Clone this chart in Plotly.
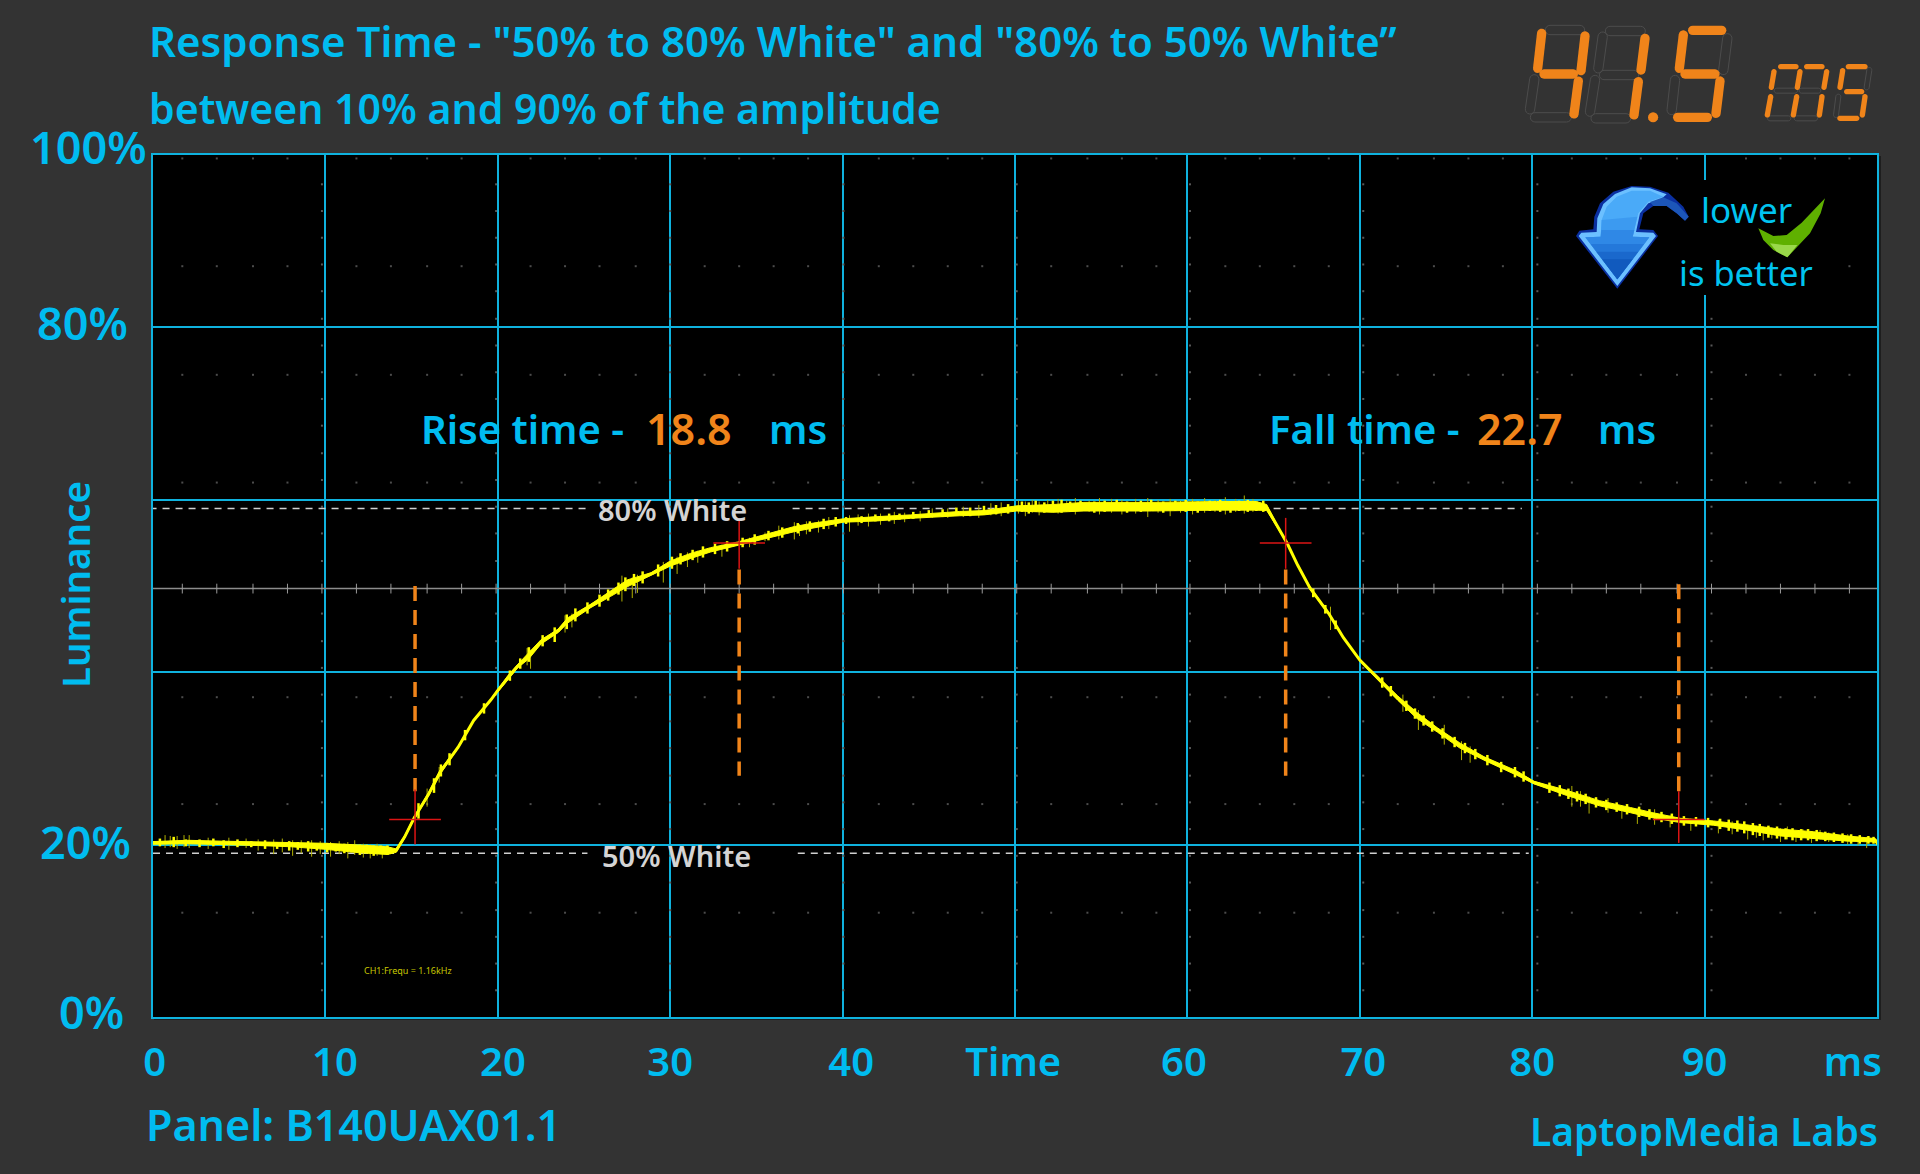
import math
import plotly.graph_objects as go

BLUE = '#00bcf0'
GRID = '#0fb2de'
ORANGE = '#f0841a'
RED = '#dc1414'
BG = '#333333'
FONT = 'Noto Sans'

# trace
time_ms = [0, 2.0, 4.0, 6.0, 8.0, 10.0, 12.0, 13.6, 14.1, 14.6, 15.15, 16.0, 16.65, 17.7, 18.6, 19.6, 20.0,
           20.6, 21.15, 21.8, 22.5, 23.5, 24.05, 25.4, 26.55, 27.5, 28.9, 30.0, 31.2, 32.35, 33.9, 35.65,
           37.2, 38.3, 40.05, 42.0, 43.95, 46.8, 48.2, 50.1, 52.2, 54.0, 57.9, 61.7, 64.0, 64.6, 65.3,
           65.8, 66.4, 67.1, 68.2, 69.05, 70.0, 71.0, 72.2, 73.3, 74.5, 75.8, 77.2, 79.1, 80.1, 82.0,
           83.9, 85.7, 87.0, 88.6, 90.5, 92.4, 94.4, 96.3, 98.3, 99.9, 100.2]
luminance = [20.2, 20.3, 20.2, 20.1, 20.0, 19.8, 19.5, 19.3, 19.3, 20.9, 23.1, 25.9, 28.4, 31.3, 34.4, 36.8, 37.9,
             39.4, 40.7, 41.9, 43.5, 44.8, 46.0, 47.7, 49.1, 50.3, 51.4, 52.6, 53.5, 54.2, 54.9, 55.8,
             56.6, 57.0, 57.6, 57.8, 58.05, 58.4, 58.5, 59.0, 59.0, 59.2, 59.2, 59.3, 59.3, 59.1, 56.6,
             54.9, 52.4, 49.8, 46.8, 44.0, 41.4, 39.4, 37.0, 35.0, 33.3, 31.5, 30.0, 28.3, 27.2, 26.0,
             24.8, 24.0, 23.4, 22.8, 22.5, 22.0, 21.4, 21.1, 20.7, 20.5, 19.6]
band = [0.15, 0.2, 0.2, 0.2, 0.25, 0.35, 0.45, 0.45, 0.2, 0.15, 0.15, 0.2, 0.25, 0.1, 0.1, 0.1, 0.1,
        0.25, 0.2, 0.35, 0.25, 0.2, 0.3, 0.2, 0.3, 0.4, 0.15, 0.3, 0.3, 0.25, 0.2, 0.25,
        0.3, 0.3, 0.2, 0.25, 0.2, 0.25, 0.25, 0.3, 0.45, 0.5, 0.5, 0.5, 0.5, 0.35, 0.1,
        0.1, 0.05, 0.15, 0.1, 0.05, 0.1, 0.2, 0.25, 0.35, 0.25, 0.3, 0.2, 0.25, 0.15, 0.3,
        0.3, 0.3, 0.3, 0.25, 0.25, 0.3, 0.4, 0.4, 0.3, 0.2, 0.15]

# faint noise spikes around the trace
spike_t = [0.7, 1.0, 1.4, 1.8, 2.1, 3.2, 4.4, 5.4, 6.1, 7.0, 7.5, 8.1, 8.6, 9.2, 9.7, 10.3, 10.8, 11.3, 11.7, 12.2,
           12.6, 13.0, 13.3, 15.9, 16.6, 21.7, 21.9, 23.9, 24.3, 27.2, 27.8, 28.1, 29.6, 30.4, 31.0, 31.6, 33.0,
           34.6, 35.5, 36.3, 37.2, 37.5, 37.9, 38.6, 39.2, 40.4, 40.9, 41.5, 42.2, 43.0, 43.6, 44.5, 45.2, 46.1,
           47.0, 47.9, 48.6, 49.2, 50.2, 50.6, 51.0, 51.4, 51.9, 52.5, 53.0, 53.5, 54.3, 54.9, 55.6, 56.2, 57.0,
           57.7, 58.3, 59.0, 59.6, 60.3, 61.0, 61.6, 62.2, 62.8, 63.3, 63.8, 68.3, 72.5, 73.4, 74.9, 75.9, 76.4,
           82.3, 82.8, 83.3, 84.4, 85.2, 86.1, 87.1, 88.0, 89.2, 90.8, 91.6, 92.5, 93.0, 93.4, 93.9, 94.4, 94.8,
           95.3, 95.7, 96.2, 96.7, 97.2, 97.8, 98.3, 98.9, 99.4]
spike_hi = [21.1, 21.0, 21.0, 21.1, 21.1, 20.8, 20.8, 20.7, 20.6, 20.6, 20.7, 20.5, 20.5, 20.5, 20.4, 20.3, 20.4, 20.3, 20.5, 20.1,
            20.0, 20.1, 19.9, 26.5, 29.0, 42.8, 42.6, 46.6, 46.8, 51.2, 51.0, 51.3, 52.8, 53.4, 53.9, 54.1, 54.8,
            55.6, 56.2, 57.0, 57.4, 57.2, 57.5, 57.6, 58.0, 58.2, 58.3, 58.4, 58.4, 58.6, 58.5, 58.7, 59.0, 59.0,
            59.2, 59.4, 59.6, 59.7, 59.9, 59.8, 60.0, 59.8, 60.0, 60.1, 59.9, 60.2, 59.9, 60.2, 60.1, 60.0, 60.1,
            60.2, 60.0, 60.1, 59.9, 60.1, 60.2, 60.0, 60.3, 60.1, 60.5, 60.1, 47.6, 37.4, 35.6, 33.9, 32.0, 31.4,
            26.8, 26.2, 25.6, 25.4, 24.5, 24.2, 24.1, 23.4, 23.0, 22.9, 22.7, 22.3, 22.2, 22.1, 22.0, 21.9, 22.1,
            21.6, 21.8, 21.5, 21.7, 21.4, 21.1, 21.2, 20.9, 20.9]
spike_lo = [19.6, 19.7, 19.5, 19.7, 19.6, 19.5, 19.4, 19.6, 19.3, 18.9, 19.1, 18.7, 19.0, 18.6, 18.9, 18.6, 18.9, 18.4, 18.8, 18.5,
            18.4, 18.7, 18.4, 24.4, 27.2, 40.8, 40.4, 44.6, 45.2, 48.2, 48.6, 49.2, 50.4, 51.4, 52.2, 52.7, 53.4,
            54.5, 55.2, 55.4, 55.4, 55.8, 56.0, 56.2, 56.6, 56.3, 57.0, 56.9, 57.1, 57.2, 57.4, 57.5, 57.9, 57.9,
            58.0, 57.9, 58.2, 58.1, 58.4, 58.1, 58.5, 58.2, 58.6, 58.4, 58.6, 58.3, 58.6, 58.3, 58.5, 58.3, 58.4,
            58.0, 58.5, 58.1, 58.5, 58.3, 58.5, 58.6, 58.3, 58.6, 58.4, 58.6, 44.9, 35.4, 33.3, 31.6, 29.8, 29.5,
            24.4, 24.4, 23.6, 23.7, 23.0, 22.4, 22.3, 22.0, 21.6, 21.3, 21.2, 20.6, 20.8, 20.5, 20.7, 20.3, 20.6,
            20.3, 20.7, 20.2, 20.6, 20.3, 20.5, 20.0, 19.9, 19.6]

# bright noise that makes the edge of the trace rough
rough_t = [0.4, 1.2, 1.9, 2.7, 3.5, 4.1, 4.9, 5.7, 6.5, 7.2, 7.9, 8.4, 9.0, 9.5, 10.1, 10.6, 11.1, 11.5, 12.0, 12.4, 12.8, 13.2, 13.6,
           15.4, 16.3, 16.7, 17.2, 18.1, 19.2, 20.7, 21.3, 21.8, 22.6, 23.3, 24.0, 24.5, 25.2, 25.9, 26.4, 27.0, 27.4, 27.9, 28.4,
           29.3, 30.1, 30.6, 31.3, 31.9, 32.6, 33.3, 34.2, 34.9, 35.7, 36.5, 37.4, 38.1, 38.9, 39.6, 40.2, 41.1, 41.9, 42.7,
           43.3, 44.1, 45.0, 45.8, 46.6, 47.4, 48.2, 48.9, 49.6, 50.4, 50.8, 51.2, 51.7, 52.2, 52.7, 53.2, 53.8, 54.6, 55.2,
           55.9, 56.5, 57.3, 57.9, 58.6, 59.3, 59.9, 60.6, 61.3, 61.9, 62.5, 63.0, 63.5, 64.0, 64.4,
           67.3, 68.0, 68.6, 71.3, 71.8, 72.7, 73.2, 73.7, 74.2, 74.8, 75.5, 76.1, 76.7, 77.4, 78.2, 79.0, 79.5,
           81.0, 81.6, 82.1, 82.6, 83.1, 83.7, 84.3, 84.9, 85.5, 86.2, 86.8, 87.5, 88.1, 88.8, 89.5, 90.2, 90.9, 91.4, 91.9,
           92.3, 92.8, 93.2, 93.7, 94.2, 94.7, 95.1, 95.6, 96.0, 96.5, 97.0, 97.5, 98.0, 98.5, 99.0, 99.5, 99.8]
rough_hi = [20.7, 20.9, 20.6, 20.6, 20.7, 20.5, 20.6, 20.4, 20.5, 20.3, 20.4, 20.3, 20.4, 20.1, 20.2, 20.0, 20.1, 20.0, 20.0, 20.0, 19.9, 19.9, 19.9,
            24.8, 27.7, 29.3, 30.6, 33.3, 36.4, 40.2, 41.6, 42.9, 44.3, 45.2, 46.7, 47.4, 48.1, 49.0, 49.6, 50.4, 51.0, 51.4, 51.7,
            52.5, 53.4, 53.8, 54.2, 54.6, 54.9, 55.2, 55.6, 56.0, 56.4, 56.8, 57.3, 57.5, 57.8, 58.0, 58.0, 58.1, 58.3, 58.4,
            58.4, 58.6, 58.8, 58.9, 59.1, 59.1, 59.3, 59.4, 59.5, 59.8, 59.7, 59.9, 59.7, 59.9, 60.0, 59.8, 59.9, 59.8, 59.9,
            60.0, 59.8, 59.9, 60.0, 59.8, 59.9, 60.0, 59.8, 59.9, 60.0, 59.8, 59.9, 60.0, 59.8, 59.9,
            49.7, 47.8, 46.0, 39.4, 38.4, 36.7, 35.8, 35.0, 34.3, 33.5, 32.5, 31.8, 31.1, 30.4, 29.6, 29.0, 28.5,
            27.2, 26.9, 26.5, 26.2, 25.9, 25.5, 25.2, 24.9, 24.7, 24.4, 24.1, 23.8, 23.6, 23.3, 23.2, 23.1, 23.0, 22.9, 22.8,
            22.7, 22.5, 22.4, 22.2, 22.1, 21.9, 21.9, 21.8, 21.8, 21.7, 21.5, 21.4, 21.3, 21.2, 21.1, 21.0, 20.9, 20.9]
rough_lo = [19.8, 19.7, 19.8, 19.7, 19.8, 19.6, 19.7, 19.7, 19.5, 19.5, 19.3, 19.4, 19.2, 19.3, 19.1, 19.2, 19.0, 19.1, 18.8, 19.0, 18.7, 18.9, 18.8,
            23.0, 26.0, 27.9, 29.2, 32.1, 35.2, 39.0, 40.4, 41.2, 43.0, 43.5, 45.0, 45.9, 46.8, 47.6, 48.3, 49.0, 49.4, 50.0, 50.3,
            51.1, 52.0, 52.5, 53.0, 53.3, 53.7, 54.0, 54.5, 54.8, 55.3, 55.6, 56.1, 56.3, 56.6, 56.9, 57.2, 57.3, 57.5, 57.5,
            57.7, 57.8, 58.0, 58.0, 58.2, 58.1, 58.4, 58.3, 58.4, 58.6, 58.4, 58.6, 58.5, 58.7, 58.5, 58.6, 58.7, 58.5, 58.6,
            58.7, 58.5, 58.6, 58.7, 58.5, 58.7, 58.6, 58.5, 58.7, 58.6, 58.5, 58.7, 58.6, 58.7, 58.6,
            48.7, 46.8, 45.0, 38.2, 37.2, 35.5, 34.6, 33.8, 33.1, 32.3, 31.3, 30.6, 29.9, 29.2, 28.4, 27.8, 27.3,
            26.0, 25.6, 25.3, 25.0, 24.7, 24.3, 24.0, 23.8, 23.5, 23.2, 22.9, 22.6, 22.4, 22.2, 22.1, 22.0, 21.8, 21.6, 21.5,
            21.3, 21.1, 21.0, 20.8, 20.7, 20.6, 20.5, 20.5, 20.5, 20.4, 20.4, 20.3, 20.2, 20.1, 20.1, 20.1, 20.1, 20.0]

# x axis labels sit where the picture puts them, not on the grid
x_label_pos = [0.1, 10.55, 20.3, 30.0, 40.5, 49.9, 59.8, 70.2, 80.0, 90.0, 98.6]
x_labels = ['0', '10', '20', '30', '40', 'Time', '60', '70', '80', '90', 'ms']
x_grid = [0, 10, 20, 30, 40, 50, 60, 70, 80, 90, 100]
y_grid = [0, 20, 40, 60, 80, 100]
y_labels = ['100%', '80%', '20%', '0%']
y_label_px = [(28, 147), (35, 322), (38, 841), (57, 1011)]

# scope graticule
dot_x = [1.7, 3.7, 5.8, 7.8, 11.8, 13.8, 15.9, 17.9, 21.9, 23.9, 25.9, 28.0, 32.0, 34.0, 36.0, 38.0,
         42.1, 44.1, 46.1, 48.1, 52.1, 54.2, 56.2, 58.2, 62.2, 64.2, 66.2, 68.2, 72.2, 74.3, 76.3, 78.3,
         82.3, 84.3, 86.3, 88.4, 92.4, 94.4, 96.4, 98.4]
dot_y = [99.6, 87.1, 74.5, 62.0, 37.1, 24.7, 12.1]
col_x = [9.8, 19.9, 30.0, 40.05, 50.1, 60.15, 70.2, 80.3, 90.4]
col_y = [3.1, 6.2, 9.3, 12.4, 15.6, 18.7, 21.8, 24.9, 28.0, 31.2, 34.3, 37.4, 40.5, 43.6, 46.8, 52.9, 56.1, 59.2,
         62.3, 65.4, 68.6, 71.7, 74.8, 77.9, 81.0, 84.2, 87.3, 90.4, 93.5, 96.6]
center_y = 49.7
center_ticks = [1.7, 3.7, 5.8, 7.8, 9.8, 11.8, 13.8, 15.9, 17.9, 19.9, 21.9, 23.9, 25.9, 28.0, 30.0, 32.0, 34.0, 36.0,
                38.0, 40.05, 42.1, 44.1, 46.1, 48.1, 50.1, 52.1, 54.2, 56.2, 58.2, 60.15, 62.2, 64.2, 66.2, 68.2,
                70.2, 72.2, 74.3, 76.3, 78.3, 80.3, 82.3, 84.3, 86.3, 88.4, 90.4, 92.4, 94.4, 96.4, 98.4]

ref_80 = 59.0
ref_50 = 19.0
ref_80_x = [[-0.2, 25.3], [37.1, 79.4]]
ref_50_x = [[0, 25.2], [37.4, 79.8]]

# rise and fall markers: time, dash top/bottom, cross level, cross top/bottom
marks = [(15.2, 50.0, 26.2, 22.9, 26.4, 20.0),
         (34.0, 51.9, 28.0, 55.0, 57.9, 52.0),
         (65.7, 51.9, 28.0, 55.0, 57.9, 52.0),
         (88.5, 50.2, 26.2, 22.9, 26.2, 20.2)]


def fx(px):
    return (px - 153) / 1724


def fy(py):
    return (1017 - py) / 862


def poly(points):
    return 'M' + ' L'.join(f'{fx(x):.5f},{fy(y):.5f}' for x, y in points) + ' Z'


def paper_shape(path, fill=None, line=None, width=0):
    return dict(type='path', xref='paper', yref='paper', path=path, layer='above',
                fillcolor=fill or 'rgba(0,0,0,0)', line=dict(color=line or 'rgba(0,0,0,0)', width=width))


def logo_poly(points, fill):
    return paper_shape(poly([(1500 + x / 3, y / 3) for x, y in points]), fill=fill)


def segment(x1, y1, x2, y2, w):
    # rounded bar between two points of the zoomed display
    x1, y1, x2, y2, w = 1500 + x1 / 3, y1 / 3, 1500 + x2 / 3, y2 / 3, w / 3
    ang = math.atan2(y2 - y1, x2 - x1)
    pts = []
    for i in range(9):
        a = ang + math.pi / 2 + math.pi * i / 8
        pts.append((x1 + w / 2 * math.cos(a), y1 + w / 2 * math.sin(a)))
    for i in range(9):
        a = ang - math.pi / 2 + math.pi * i / 8
        pts.append((x2 + w / 2 * math.cos(a), y2 + w / 2 * math.sin(a)))
    return poly(pts)


def ranges(ts, his, los):
    xs, ys = [], []
    for t, hi, lo in zip(ts, his, los):
        xs += [t, t, None]
        ys += [lo, hi, None]
    return xs, ys


upper = [v + b for v, b in zip(luminance, band)]
lower = [v - b for v, b in zip(luminance, band)]
spike_xs, spike_ys = ranges(spike_t, spike_hi, spike_lo)
rough_xs, rough_ys = ranges(rough_t, rough_hi, rough_lo)

fig = go.Figure()

# graticule
fig.add_trace(go.Scatter(x=[x for x in dot_x for _ in dot_y], y=[y for _ in dot_x for y in dot_y], mode='markers',
                         marker=dict(color='#4c4c4c', size=2, symbol='square'), hoverinfo='skip'))
fig.add_trace(go.Scatter(x=[x for x in col_x for _ in col_y], y=[y for _ in col_x for y in col_y], mode='markers',
                         marker=dict(color='#585858', size=2, symbol='square'), hoverinfo='skip'))
fig.add_trace(go.Scatter(x=[0, 100], y=[center_y, center_y], mode='lines', line=dict(color='#8c8c8c', width=1.5),
                         hoverinfo='skip'))
fig.add_trace(go.Scatter(x=center_ticks, y=[center_y] * len(center_ticks), mode='markers', hoverinfo='skip',
                         marker=dict(symbol='line-ns', size=7, line=dict(color='#9a9a9a', width=1))))

# reference levels
for xs, level in [(ref_80_x[0], ref_80), (ref_80_x[1], ref_80), (ref_50_x[0], ref_50), (ref_50_x[1], ref_50)]:
    fig.add_trace(go.Scatter(x=xs, y=[level, level], mode='lines', cliponaxis=False, hoverinfo='skip',
                             line=dict(color='#d0d0d0', width=1.5, dash='7px,6px')))

# measured trace
fig.add_trace(go.Scatter(x=spike_xs, y=spike_ys, mode='lines', line=dict(color='#b0b000', width=1), hoverinfo='skip'))
fig.add_trace(go.Scatter(x=rough_xs, y=rough_ys, mode='lines', line=dict(color='#ffff00', width=2.5), hoverinfo='skip'))
fig.add_trace(go.Scatter(x=time_ms + time_ms[::-1], y=upper + lower[::-1], mode='lines', fill='toself',
                         fillcolor='#ffff00', line=dict(color='#ffff00', width=1), cliponaxis=False,
                         hoverinfo='skip'))
fig.add_trace(go.Scatter(x=time_ms, y=luminance, mode='lines', line=dict(color='#ffff00', width=3),
                         cliponaxis=False, name='Luminance'))

# rise and fall markers
for t, top, bottom, level, c_top, c_bottom in marks:
    fig.add_trace(go.Scatter(x=[t, t], y=[top, bottom], mode='lines', hoverinfo='skip',
                             line=dict(color=ORANGE, width=3.5, dash='15px,9px')))
    fig.add_trace(go.Scatter(x=[t, t], y=[c_top, c_bottom], mode='lines', hoverinfo='skip',
                             line=dict(color=RED, width=1.5)))
    fig.add_trace(go.Scatter(x=[t - 1.5, t + 1.5], y=[level, level], mode='lines', hoverinfo='skip',
                             line=dict(color=RED, width=1.5)))

shapes = []
# shadow on the right and bottom of the frame
shapes.append(dict(type='rect', xref='paper', yref='paper', x0=fx(1878), x1=fx(1881), y0=fy(156), y1=fy(1020),
                   fillcolor='#1e1e1e', line=dict(width=0), layer='below'))
shapes.append(dict(type='rect', xref='paper', yref='paper', x0=fx(154), x1=fx(1881), y0=fy(1018), y1=fy(1020),
                   fillcolor='#1e1e1e', line=dict(width=0), layer='below'))
# black box behind the logo
shapes.append(dict(type='rect', xref='paper', yref='paper', x0=fx(1540), x1=fx(1845), y0=fy(180), y1=fy(295),
                   fillcolor='#000000', line=dict(width=0), layer='above'))

# arrow, the gradient is a stack of bands
arrow_outer = [(352, 866), (228, 708), (238, 692), (280, 688), (283, 650), (300, 610), (340, 575), (395, 558),
               (450, 560), (505, 578), (550, 620), (566, 650), (555, 662), (530, 640), (500, 618), (460, 618),
               (430, 640), (418, 688), (460, 690), (474, 708)]
arrow_rim = [(352, 858), (236, 708), (244, 698), (290, 696), (292, 655), (310, 612), (345, 582), (395, 562),
             (450, 565), (500, 583), (480, 600), (445, 610), (420, 640), (408, 696), (460, 698), (468, 708)]
arrow_fill = [(352, 838), (256, 712), (302, 710), (305, 660), (320, 620), (350, 590), (395, 572), (450, 572),
              (490, 590), (445, 605), (415, 640), (398, 710), (448, 712)]
arrow_band1 = [(352, 838), (256, 712), (302, 710), (305, 660), (412, 650), (398, 710), (448, 712)]
arrow_band2 = [(352, 838), (256, 712), (302, 710), (304, 690), (403, 690), (398, 710), (448, 712)]
arrow_band3 = [(352, 838), (272, 732), (432, 732)]
arrow_band4 = [(352, 838), (289, 755), (415, 755)]
arrow_band5 = [(352, 838), (306, 778), (398, 778)]
arrow_tail = [(490, 592), (530, 610), (566, 650), (555, 662), (530, 640), (500, 618), (460, 618), (450, 606)]
shapes.append(logo_poly(arrow_outer, '#0a2fa0'))
shapes.append(logo_poly(arrow_rim, '#6cc0ff'))
shapes.append(logo_poly(arrow_fill, '#4aaaf8'))
shapes.append(logo_poly(arrow_band1, '#3c9af0'))
shapes.append(logo_poly(arrow_band2, '#2f88e6'))
shapes.append(logo_poly(arrow_band3, '#2478da'))
shapes.append(logo_poly(arrow_band4, '#1a68cc'))
shapes.append(logo_poly(arrow_band5, '#115abe'))
shapes.append(logo_poly(arrow_tail, '#1c56b8'))

# check mark
shapes.append(logo_poly([(975, 595), (962, 640), (930, 700), (862, 772), (820, 750), (790, 720), (775, 685),
                         (820, 708), (860, 705), (905, 668)], '#5fb000'))
shapes.append(logo_poly([(810, 730), (850, 735), (892, 735), (862, 772), (830, 755)], '#9ad84a'))

# seven segment readout
seg_on_big = [(125, 100, 113, 205), (255, 108, 243, 212), (132, 222, 220, 222), (235, 243, 222, 342),
              (435, 115, 423, 210), (415, 245, 402, 345),
              (578, 91, 665, 91), (550, 105, 538, 205), (555, 222, 645, 222), (660, 243, 648, 340), (533, 352, 622, 352)]
seg_off_big = [(150, 90, 240, 90), (105, 352, 200, 352), (103, 238, 90, 328),
               (330, 93, 422, 93), (308, 110, 295, 205), (312, 225, 402, 225), (285, 240, 270, 335), (287, 355, 378, 355),
               (682, 115, 670, 210), (525, 240, 515, 330)]
seg_on_small = [(842, 200, 888, 200), (920, 200, 966, 200), (822, 215, 814, 262), (900, 215, 892, 262),
                (980, 215, 972, 262), (812, 290, 802, 345), (890, 290, 880, 345), (966, 290, 958, 345),
                (1045, 200, 1095, 200), (1028, 212, 1020, 262), (1040, 275, 1085, 275), (1095, 290, 1087, 345),
                (1020, 355, 1070, 355)]
seg_off_small = [(830, 272, 885, 272), (905, 272, 955, 272), (810, 355, 865, 355), (890, 355, 945, 355),
                 (1108, 210, 1100, 262), (1015, 290, 1008, 345)]
for s in seg_off_big:
    shapes.append(paper_shape(segment(*s, 28), line='#4c4c4c', width=1))
for s in seg_off_small:
    shapes.append(paper_shape(segment(*s, 15), line='#4c4c4c', width=1))
for s in seg_on_big:
    shapes.append(paper_shape(segment(*s, 28), fill=ORANGE))
for s in seg_on_small:
    shapes.append(paper_shape(segment(*s, 16), fill=ORANGE))
shapes.append(paper_shape(segment(459, 352, 459.5, 352, 30), fill=ORANGE))


def label(text, px, py, size, color=BLUE, anchor='left', weight=600, angle=0):
    return dict(text=text, xref='paper', yref='paper', x=fx(px), y=fy(py), xanchor=anchor, yanchor='middle',
                showarrow=False, textangle=angle, font=dict(family=FONT, size=size, color=color, weight=weight))


annotations = [
    label('Response Time - "50% to 80% White" and "80% to 50% White”', 147, 41, 42),
    label('between 10% and 90% of the amplitude', 147, 108, 41),
    label('Rise time -', 419, 429, 40),
    label('18.8', 644, 429, 43, color=ORANGE),
    label('ms', 767, 429, 40),
    label('Fall time -', 1267, 429, 40),
    label('22.7', 1475, 429, 43, color=ORANGE),
    label('ms', 1596, 429, 40),
    label('80% White', 596, 509, 29, color='#d4d4d4'),
    label('50% White', 600, 855, 29, color='#d4d4d4'),
    label('CH1:Frequ = 1.16kHz', 362, 970, 9, color='#c8c800', weight=400),
    label('Luminance', 75, 585, 38.5, anchor='center', angle=-90),
    label('Panel: B140UAX01.1', 144, 1124, 43),
    label('LaptopMedia Labs', 1880, 1130, 39, anchor='right'),
    label('lower', 1699, 210, 35, color='#00c4f0', weight=400),
    label('is better', 1677, 272, 34.5, color='#00c4f0', weight=400),
]
for text, (px, py) in zip(y_labels, y_label_px):
    annotations.append(label(text, px, py, 45))

fig.update_layout(
    width=1920, height=1174,
    margin=dict(l=153, r=43, t=155, b=157, autoexpand=False),
    paper_bgcolor=BG,
    plot_bgcolor='#000000',
    showlegend=False,
    shapes=shapes,
    annotations=annotations,
    xaxis=dict(range=[0, 100], tickmode='array', tickvals=x_label_pos, ticktext=x_labels, showgrid=False,
               zeroline=False, showline=True, mirror=True, linecolor=GRID, linewidth=2, ticks='outside',
               ticklen=9, tickcolor='rgba(0,0,0,0)', tickangle=0,
               tickfont=dict(family=FONT, size=40, color=BLUE, weight=600),
               minor=dict(tickmode='array', tickvals=x_grid, showgrid=True, gridcolor=GRID, gridwidth=2)),
    yaxis=dict(range=[0, 100], tickmode='array', tickvals=y_grid, showticklabels=False, showgrid=True,
               gridcolor=GRID, gridwidth=2, zeroline=False, showline=True, mirror=True, linecolor=GRID,
               linewidth=2),
)

fig.write_html("out.html", config=dict(displayModeBar=False),
               post_script="document.body.style.margin='0';document.body.style.background='#333333';")
